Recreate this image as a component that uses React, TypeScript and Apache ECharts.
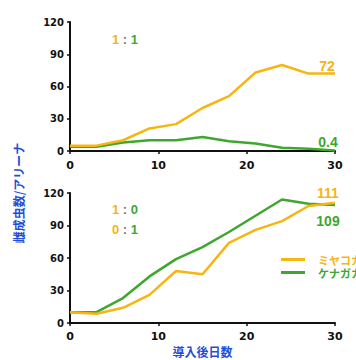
import React, { useEffect, useRef } from "react";
import * as echarts from "echarts";

const days = [0, 3, 6, 9, 12, 15, 18, 21, 24, 27, 30];
const topMiyako = [5, 5, 10, 21, 25, 40, 51, 73, 80, 72, 72];
const topKenaga = [4, 4, 8, 10, 10, 13, 9, 7, 3, 2, 0.4];
const botMiyako = [10, 8.5, 14, 26, 48, 45, 74, 86, 94, 108, 111];
const botKenaga = [10, 10, 23, 43, 59, 70, 84, 99, 114, 110, 109];
const seriesNames = ["ミヤコカブリダニ", "ケナガカブリダニ"];
const yTicks = [0, 30, 60, 90, 120];
const xTicks = [0, 10, 20, 30];

const ORANGE = "#F7B512";
const GREEN = "#3FA72F";
const BLUE = "#1F4FD6";

const pairs = (ys: number[]) => days.map((d, i) => [d, ys[i]]);

export default function App() {
  const ref = useRef<HTMLDivElement>(null);
  useEffect(() => {
    document.body.style.margin = "0";
    const chart = echarts.init(ref.current!, undefined, { renderer: "svg" });
    const axisLabel = {
      color: "#111",
      fontWeight: "bold" as const,
      fontSize: 11,
      fontFamily: "DejaVu Sans",
    };
    const mkX = (gridIndex: number, withName: boolean, margin: number) => ({
      type: "value" as const,
      gridIndex,
      min: xTicks[0],
      max: xTicks[xTicks.length - 1],
      interval: 10,
      axisLine: { show: true, lineStyle: { color: "#111", width: 2 } },
      axisTick: { show: true, length: 3, lineStyle: { color: "#111", width: 1.5 } },
      axisLabel: { ...axisLabel, margin },
      splitLine: { show: false },
      name: withName ? "導入後日数" : "",
      nameLocation: "middle" as const,
      nameGap: 22,
      nameTextStyle: {
        color: BLUE,
        fontWeight: "bold" as const,
        fontSize: 12,
        fontFamily: "Noto Sans CJK JP",
      },
    });
    const mkY = (gridIndex: number) => ({
      type: "value" as const,
      gridIndex,
      min: yTicks[0],
      max: yTicks[yTicks.length - 1],
      interval: 30,
      axisLine: { show: true, lineStyle: { color: "#111", width: 2 } },
      axisTick: { show: true, length: 3, lineStyle: { color: "#111", width: 1.5 } },
      axisLabel: { ...axisLabel, fontSize: 10, margin: 6 },
      splitLine: { show: false },
    });
    const mkSeries = (
      name: string,
      data: number[],
      idx: number,
      color: string,
      offset: number[]
    ) => ({
      type: "line" as const,
      name,
      xAxisIndex: idx,
      yAxisIndex: idx,
      data: pairs(data),
      showSymbol: false,
      symbol: "none",
      lineStyle: { color, width: 2.5 },
      itemStyle: { color },
      z: color === GREEN ? 2 : 3,
      endLabel: {
        show: true,
        formatter: (p: any) => String(p.value[1]),
        color,
        fontSize: 14,
        fontWeight: "bold" as const,
        fontFamily: "Liberation Sans",
        distance: 0,
        align: "center" as const,
        verticalAlign: "middle" as const,
        offset,
      },
    });
    const ratioText = (y: number, a: string, b: string, ca: string, cb: string) => ({
      type: "text" as const,
      left: 112,
      top: y,
      style: {
        text: `{a|${a}}{s| : }{b|${b}}`,
        rich: {
          a: { fill: ca, fontSize: 13, fontWeight: "bold", fontFamily: "Liberation Sans" },
          s: { fill: "#777", fontSize: 13, fontWeight: "bold", fontFamily: "Liberation Sans" },
          b: { fill: cb, fontSize: 13, fontWeight: "bold", fontFamily: "Liberation Sans" },
        },
      },
    });
    chart.setOption({
      animation: false,
      backgroundColor: "#fff",
      grid: [
        { left: 70, right: 21, top: 22, height: 129 },
        { left: 70, right: 21, top: 193, height: 130 },
      ],
      xAxis: [mkX(0, false, 9), mkX(1, true, 8)],
      yAxis: [mkY(0), mkY(1)],
      legend: {
        orient: "vertical",
        left: 276,
        top: 248,
        itemWidth: 24,
        itemHeight: 3,
        itemGap: 0,
        icon: "rect",
        data: [
          { name: seriesNames[0], textStyle: { color: ORANGE } },
          { name: seriesNames[1], textStyle: { color: GREEN } },
        ],
        textStyle: {
          fontSize: 11,
          lineHeight: 13,
          fontWeight: "bold",
          fontFamily: "Noto Sans CJK JP",
          padding: [0, 0, 0, 8],
        },
      },
      series: [
        mkSeries(seriesNames[0], topMiyako, 0, ORANGE, [-8, -8]),
        mkSeries(seriesNames[1], topKenaga, 0, GREEN, [-7, -9]),
        mkSeries(seriesNames[0], botMiyako, 1, ORANGE, [-7, -10]),
        mkSeries(seriesNames[1], botKenaga, 1, GREEN, [-7, 16]),
      ],
      graphic: [
        ratioText(33, "1", "1", ORANGE, GREEN),
        ratioText(203, "1", "0", ORANGE, GREEN),
        ratioText(223, "0", "1", ORANGE, GREEN),
        {
          type: "text",
          x: 18,
          y: 193,
          rotation: Math.PI / 2,
          style: {
            text: "雌成虫数/アリーナ",
            fill: BLUE,
            fontSize: 12,
            fontWeight: "bold",
            fontFamily: "Noto Sans CJK JP",
            align: "center",
            verticalAlign: "middle",
          },
        },
      ],
    });
    return () => chart.dispose();
  }, []);
  return <div ref={ref} style={{ width: 356, height: 360 }} />;
}
